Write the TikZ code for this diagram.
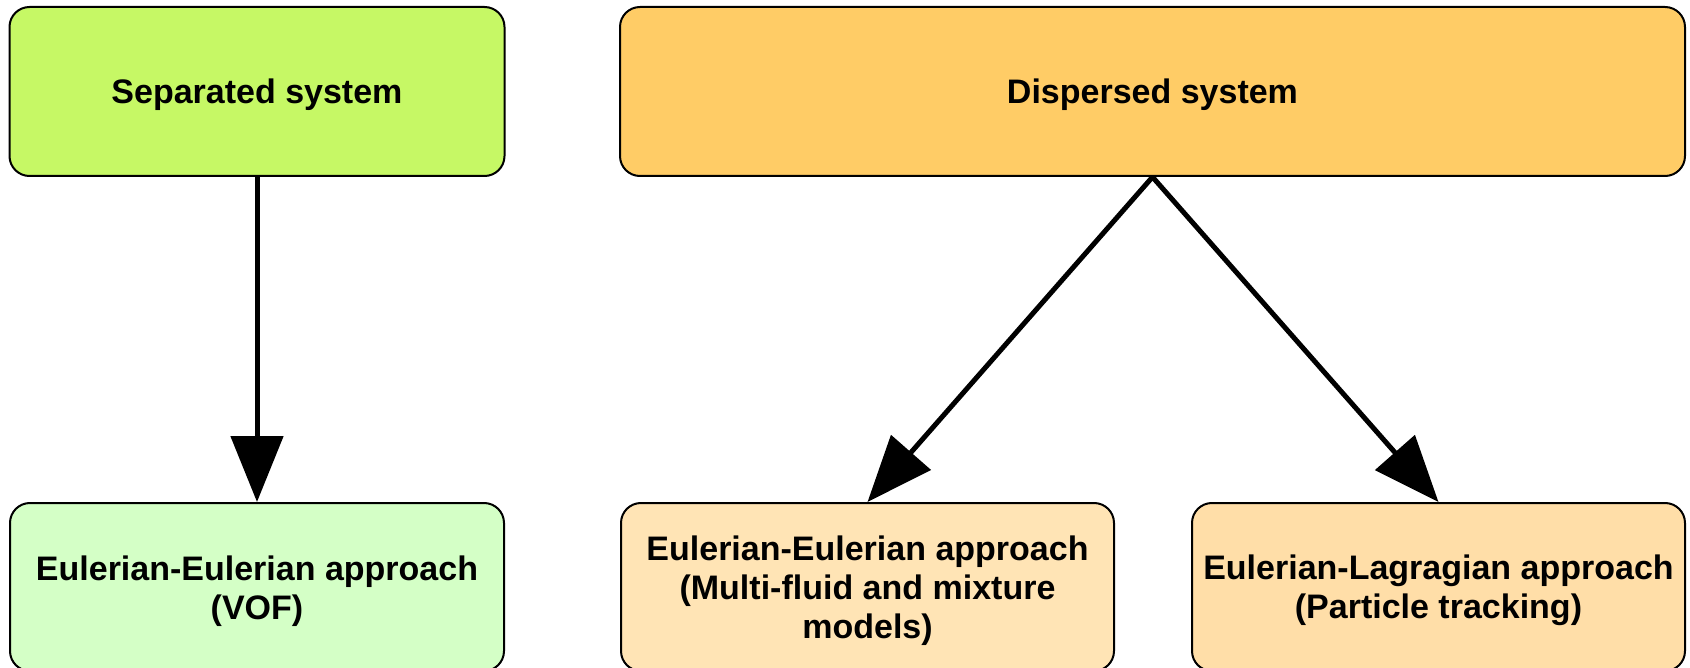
\documentclass[tikz,border=0pt]{standalone}
\usepackage{fontspec}
\setmainfont{Liberation Sans}
\usetikzlibrary{arrows.meta}
\definecolor{sepgreen}{HTML}{C6F865}
\definecolor{dispor}{HTML}{FFCC66}
\definecolor{lightgreen}{HTML}{D4FFC6}
\definecolor{lightor}{HTML}{FFE4B5}
\definecolor{lightor2}{HTML}{FFDEA8}
\tikzset{
  box/.style={draw=black, line width=2pt, rounded corners=20pt, inner sep=0pt},
  txt/.style={inner sep=0pt, align=center, font=\fontsize{34}{39}\selectfont\bfseries},
  conn/.style={line width=5pt, -{Triangle[length=66pt,width=52pt]}}
}
\begin{document}
\begin{tikzpicture}[x=1pt,y=-1pt]
\useasboundingbox (0,0) rectangle (1690,668);
\clip (0,0) rectangle (1690,668);
\node[box, fill=sepgreen, minimum width=495pt, minimum height=169pt] (sep) at (257,91.5) {};
\node[box, fill=dispor, minimum width=1065pt, minimum height=169pt] (disp) at (1152.5,91.5) {};
\node[box, fill=lightgreen, minimum width=494pt, minimum height=168pt] (vof) at (257,587) {};
\node[box, fill=lightor, minimum width=493pt, minimum height=168pt] (mf) at (867.5,587) {};
\node[box, fill=lightor2, minimum width=493pt, minimum height=168pt] (lag) at (1438.5,587) {};
\node[txt] (septxt) at ([yshift=-3.5pt]sep.center) {Separated system};
\node[txt] (disptxt) at ([yshift=-3.5pt]disp.center) {Dispersed system};
\node[txt] (voftxt) at ([yshift=-4.5pt]vof.center) {Eulerian-Eulerian approach\\(VOF)};
\node[txt] (mftxt) at ([yshift=-4pt]mf.center) {Eulerian-Eulerian approach\\(Multi-fluid and mixture\\models)};
\node[txt] (lagtxt) at ([yshift=-3.5pt]lag.center) {Eulerian-Lagragian approach\\(Particle tracking)};
\draw[conn] (sep.south) -- (vof.north);
\draw[conn] (disp.south) -- (mf.north);
\draw[conn] (disp.south) -- (lag.north);
\end{tikzpicture}
\end{document}
